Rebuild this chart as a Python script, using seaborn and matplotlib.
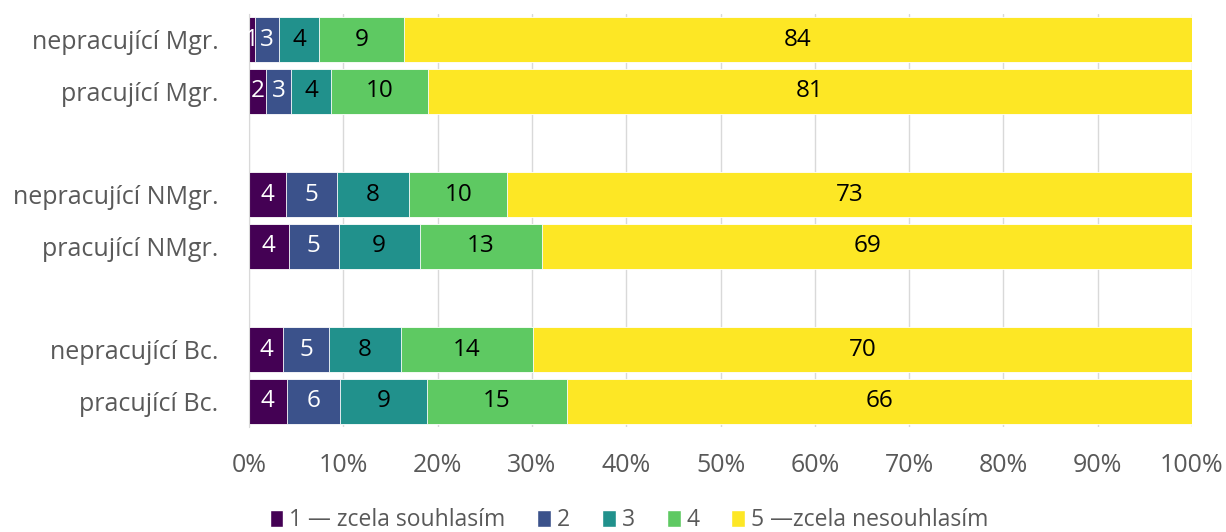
import numpy as np
import pandas as pd
import matplotlib
matplotlib.use("Agg")
import matplotlib.pyplot as plt
import seaborn as sns
from matplotlib.patches import Patch

# categories top-to-bottom; blank entries are the gaps between groups
groups = ["nepracující Mgr.", "pracující Mgr.", " ",
          "nepracující NMgr.", "pracující NMgr.", "  ",
          "nepracující Bc.", "pracující Bc."]

answers = ["1 — zcela souhlasím", "2", "3", "4", "5 —zcela nesouhlasím"]

# shares (%) per answer, one value per non-blank group, same order as groups
ans_1 = [0.6, 1.8, 3.9, 4.2, 3.6, 4.0]
ans_2 = [2.6, 2.7, 5.4, 5.3, 4.9, 5.7]
ans_3 = [4.2, 4.2, 7.7, 8.6, 7.6, 9.2]
ans_4 = [9.0, 10.3, 10.4, 13.0, 14.0, 14.8]
ans_5 = [83.6, 81.0, 72.6, 68.9, 69.9, 66.3]

PALETTE = ["#440154", "#3b528b", "#21918c", "#5ec962", "#fde725"]
LABEL_COLORS = ["white", "white", "black", "black", "black"]
TEXT_GREY = "#595959"

sns.set_style("white")
plt.rcParams["font.family"] = ["Open Sans", "DejaVu Sans"]

rows = [g for g in groups if g.strip()]
vals = pd.DataFrame(dict(zip(answers, [ans_1, ans_2, ans_3, ans_4, ans_5])), index=rows)
cum = vals.cumsum(axis=1)

fig = plt.figure(figsize=(12.26, 5.32), dpi=100)
ax = fig.add_axes([249 / 1226, 1 - 427 / 532, (1192 - 249) / 1226, (427 - 14) / 532])

# stacked bars: draw cumulative totals from the widest down
for i in reversed(range(len(answers))):
    d = pd.DataFrame({"group": rows, "cum": cum.iloc[:, i].values})
    sns.barplot(data=d, x="cum", y="group", order=groups, color=PALETTE[i],
                width=0.87, saturation=1, edgecolor="white", linewidth=0.6,
                ax=ax, orient="h")

ypos = {g: k for k, g in enumerate(groups)}
for r in rows:
    left = 0.0
    for i, a in enumerate(answers):
        v = vals.loc[r, a]
        ax.text(left + v / 2, ypos[r], f"{round(v):d}", ha="center", va="center",
                fontsize=17.5, color=LABEL_COLORS[i])
        left += v

ax.set_xlim(0, 100)
ax.set_ylim(len(groups) - 0.5, -0.5)
ax.set_xticks(np.arange(0, 101, 10))
ax.set_xticklabels([f"{t}%" for t in range(0, 101, 10)])
ax.set_xlabel("")
ax.set_ylabel("")
ax.set_yticks([ypos[r] for r in rows])
ax.set_yticklabels(rows)
ax.tick_params(axis="x", length=0, pad=19, labelsize=18, labelcolor=TEXT_GREY)
ax.tick_params(axis="y", length=0, pad=22, labelsize=18, labelcolor=TEXT_GREY)
ax.grid(axis="x", color="#d9d9d9", linewidth=1)
ax.set_axisbelow(True)
for s in ["top", "right", "bottom"]:
    ax.spines[s].set_visible(False)
ax.spines["left"].set_color("#d9d9d9")

handles = [Patch(facecolor=c, label=a) for c, a in zip(PALETTE, answers)]
fig.legend(handles=handles, loc="center", bbox_to_anchor=(0.513, 0.022), ncol=5,
           frameon=False, fontsize=16.5, handlelength=0.6, handleheight=0.8,
           handletextpad=0.25, columnspacing=1.4, labelcolor=TEXT_GREY)

fig.savefig("out.png", dpi=100)
